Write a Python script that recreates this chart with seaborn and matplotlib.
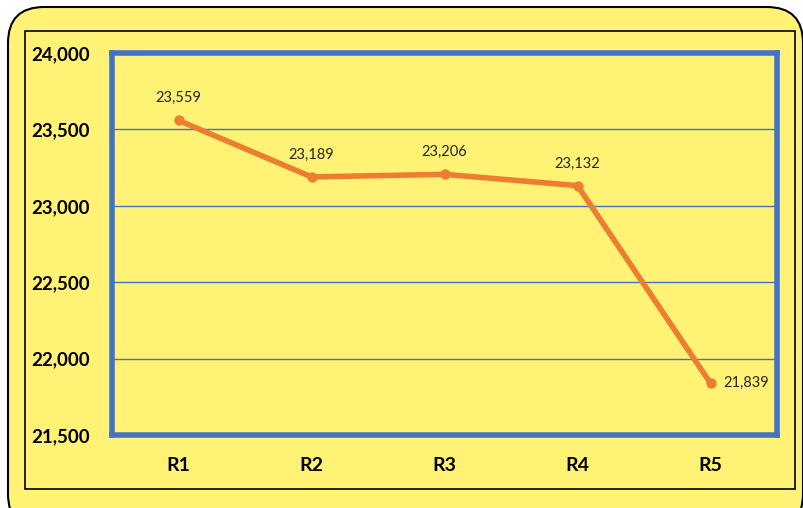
import matplotlib
matplotlib.use("Agg")
import matplotlib.pyplot as plt
import seaborn as sns
import pandas as pd
from matplotlib.patches import FancyBboxPatch, Rectangle

# данные графика
categories = ["R1", "R2", "R3", "R4", "R5"]
values = [23559, 23189, 23206, 23132, 21839]
y_ticks = [21500, 22000, 22500, 23000, 23500, 24000]

yellow = "#FFF275"
blue = "#4472C4"
orange = "#ED7D31"

sns.set_theme(style="white")
plt.rcParams["font.family"] = ["Lato", "DejaVu Sans"]

df = pd.DataFrame({"round": categories, "value": values})

W, H = 804, 508
fig = plt.figure(figsize=(W / 100, H / 100), dpi=100)
fig.patch.set_facecolor("white")

# внешняя скруглённая рамка (низ уходит за край картинки)
outer = FancyBboxPatch((8 / W, 1 - 530 / H), (803 - 8) / W, (530 - 7) / H,
                       boxstyle="round,pad=0,rounding_size=0.045",
                       transform=fig.transFigure, facecolor=yellow,
                       edgecolor="black", linewidth=1.5, mutation_aspect=W / H,
                       zorder=-2)
fig.patches.append(outer)
# внутренняя тонкая рамка
inner = Rectangle((25 / W, 1 - 489 / H), (795 - 25) / W, (489 - 31) / H,
                  transform=fig.transFigure, facecolor="none",
                  edgecolor="black", linewidth=1.2, zorder=-1)
fig.patches.append(inner)

ax = fig.add_axes([112 / W, 1 - 435 / H, (777 - 112) / W, (435 - 53) / H])
ax.set_zorder(2)
ax.set_facecolor(yellow)

sns.lineplot(data=df, x="round", y="value", ax=ax, color=orange,
             linewidth=4, marker="o", markersize=7.5, markeredgewidth=0,
             zorder=3)

ax.set_xlim(-0.5, 4.5)
ax.set_ylim(21500, 24000)
ax.set_yticks(y_ticks)
ax.set_yticklabels([f"{v:,}" for v in y_ticks])
ax.grid(axis="y", color=blue, linewidth=1.0)
ax.grid(axis="x", visible=False)
ax.set_xlabel("")
ax.set_ylabel("")
ax.tick_params(axis="y", length=0, pad=16, labelsize=13.5)
ax.tick_params(axis="x", length=0, pad=16, labelsize=14)
for lab in ax.get_xticklabels() + ax.get_yticklabels():
    lab.set_fontweight("bold")
    lab.set_color("black")

for s in ax.spines.values():
    s.set_color(blue)
    s.set_linewidth(4)
    s.set_visible(True)

# подписи значений
for i, v in enumerate(values):
    if i == len(values) - 1:
        ax.annotate(f"{v:,}", (i, v), xytext=(9, 0), textcoords="offset points",
                    ha="left", va="center", fontsize=10.5)
    else:
        ax.annotate(f"{v:,}", (i, v), xytext=(0, 16), textcoords="offset points",
                    ha="center", va="center", fontsize=10.5)

plt.savefig("out.png", dpi=100, facecolor=fig.get_facecolor())
